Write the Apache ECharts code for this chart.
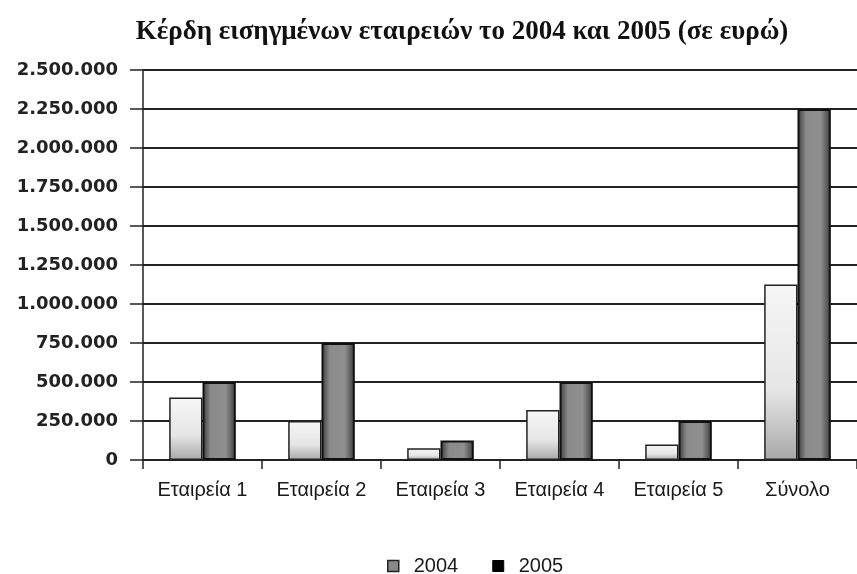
<!DOCTYPE html>
<html lang="el">
<head>
    <meta charset="UTF-8">
    <title>Κέρδη εισηγμένων εταιρειών</title>
    <script src="https://cdn.jsdelivr.net/npm/echarts@6/dist/echarts.min.js"></script>
    <style>
        html, body { margin: 0; padding: 0; background: #fff; }
        #main { width: 857px; height: 574px; }
    </style>
</head>
<body>
<div id="main"></div>
<script type="text/javascript">
    // δεδομένα
    var categories = ['Εταιρεία 1', 'Εταιρεία 2', 'Εταιρεία 3', 'Εταιρεία 4', 'Εταιρεία 5', 'Σύνολο'];
    var values2004 = [400000, 250000, 75000, 320000, 100000, 1125000];
    var values2005 = [500000, 750000, 125000, 500000, 250000, 2250000];
    var seriesNames = ['2004', '2005'];

    // 2.500.000 style
    function fmt(v) {
        return String(v).replace(/\B(?=(\d{3})+(?!\d))/g, '.');
    }

    var myChart = echarts.init(document.getElementById('main'));

    var option = {
        backgroundColor: '#fff',
        animation: false,
        title: {
            text: 'Κέρδη εισηγμένων εταιρειών το 2004 και 2005 (σε ευρώ)',
            left: 457,
            textAlign: 'center',
            top: 14,
            textStyle: {
                fontFamily: 'Liberation Serif',
                fontWeight: 'bold',
                fontSize: 27,
                color: '#111'
            }
        },
        legend: {
            top: 551,
            left: 382,
            icon: 'rect',
            itemWidth: 11,
            itemHeight: 11,
            itemGap: 34,
            textStyle: {
                fontFamily: 'Liberation Sans',
                fontSize: 20,
                color: '#1a1a1a',
                padding: [0, 0, 0, 10]
            },
            data: [
                { name: seriesNames[0], itemStyle: { color: '#888', borderColor: '#222', borderWidth: 1.5 } },
                { name: seriesNames[1], itemStyle: { color: '#000', borderColor: '#000', borderWidth: 1 } }
            ]
        },
        grid: {
            left: 143,
            right: 0,
            top: 70,
            bottom: 114
        },
        xAxis: {
            type: 'category',
            data: categories,
            axisLine: { lineStyle: { color: '#222', width: 2 } },
            axisTick: { show: true, length: 9, lineStyle: { color: '#222', width: 1.5 } },
            axisLabel: {
                interval: 0,
                margin: 20,
                fontFamily: 'Liberation Sans',
                fontSize: 20,
                color: '#1a1a1a'
            }
        },
        yAxis: {
            type: 'value',
            min: 0,
            max: 2500000,
            interval: 250000,
            axisLine: { show: true, lineStyle: { color: '#222', width: 1.5 } },
            axisTick: { show: true, length: 13, lineStyle: { color: '#222', width: 1.5 } },
            splitLine: { lineStyle: { color: '#222', width: 2 } },
            axisLabel: {
                margin: 25,
                formatter: fmt,
                fontFamily: 'DejaVu Sans',
                fontWeight: 'bold',
                fontSize: 18,
                color: '#222'
            }
        },
        series: [
            {
                name: seriesNames[0],
                type: 'bar',
                data: values2004,
                barGap: '0%',
                barCategoryGap: '44%',
                itemStyle: {
                    borderColor: '#222',
                    borderWidth: 1.5,
                    color: new echarts.graphic.LinearGradient(0, 0, 0, 1, [
                        { offset: 0, color: '#f6f6f6' },
                        { offset: 0.6, color: '#e6e6e6' },
                        { offset: 1, color: '#a8a8a8' }
                    ])
                }
            },
            {
                name: seriesNames[1],
                type: 'bar',
                data: values2005,
                barGap: '0%',
                barCategoryGap: '44%',
                itemStyle: {
                    borderColor: '#111',
                    borderWidth: 2,
                    color: new echarts.graphic.LinearGradient(0, 0, 1, 0, [
                        { offset: 0, color: '#3a3a3a' },
                        { offset: 0.25, color: '#8a8a8a' },
                        { offset: 0.7, color: '#8f8f8f' },
                        { offset: 1, color: '#3a3a3a' }
                    ])
                }
            }
        ]
    };

    myChart.setOption(option);
</script>
</body>
</html>
